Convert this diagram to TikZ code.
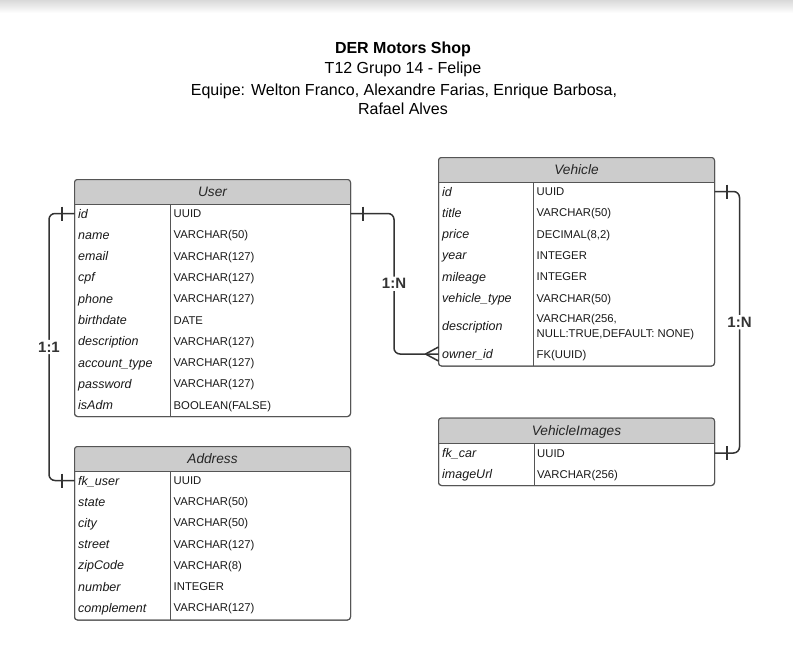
\documentclass[tikz,border=0pt]{standalone}
\usepackage{fontspec}
\setmainfont{Liberation Sans}
\usetikzlibrary{calc}
\definecolor{headgray}{HTML}{CCCCCC}
\definecolor{lncol}{HTML}{333333}
\definecolor{frcol}{HTML}{555555}
\tikzset{
 tframe/.style={draw=frcol, line width=1pt, fill=white, rounded corners=3pt, inner sep=0pt, outer sep=0pt},
 tline/.style={draw=frcol, line width=1pt},
 headtext/.style={font=\fontsize{13.7}{16}\selectfont\itshape, text=black!85, inner sep=0pt, anchor=base},
 fieldtext/.style={font=\fontsize{12.5}{14}\selectfont\itshape, text=black!90, inner sep=0pt, anchor=base west},
 typetext/.style={font=\fontsize{11.3}{14.5}\selectfont, text=black!90, inner sep=0pt, anchor=base west, align=left},
 conn/.style={draw=lncol, line width=1.5pt},
 rel/.style={font=\fontsize{15}{18}\selectfont\bfseries, text=lncol, fill=white, inner sep=2pt},
 ttl/.style={font=\fontsize{16}{19}\selectfont, inner sep=0pt, anchor=base}
}
% #1 name, #2 x1, #3 y1, #4 x2, #5 y2, #6 header bottom, #7 divider x, #8 title
\newcommand\ertable[8]{%
  \node[tframe, minimum width={#4-#2}, minimum height={#5-#3}, anchor=north west] (#1) at (#2,#3) {};
  \begin{scope}
    \clip[rounded corners=3pt] (#2,#3) rectangle (#4,#5);
    \fill[headgray] (#2,#3) rectangle (#4,#6);
  \end{scope}
  \draw[tline] (#2,#6) -- (#4,#6);
  \draw[tline] (#7,#6) -- (#7,#5);
  \draw[tline, rounded corners=3pt] (#1.north west) rectangle (#1.south east);
  \node[headtext] (#1-title) at ({(#2+#4)/2},{(#3+#6)/2+5}) {#8};
}
% #1 name, #2 x1, #3 divider x, #4 y, #5 field, #6 type
\newcommand\erow[6]{%
  \coordinate (#1-r) at (#2,#4);
  \node[fieldtext] (#1) at (#2+3.5,#4+4.5) {#5};
  \node[typetext] (#1-t) at (#3+3,#4+4) {#6};
}
\begin{document}
\begin{tikzpicture}[x=1pt,y=-1pt]
\useasboundingbox (0,0) rectangle (793,659);
\shade[top color=black!15, bottom color=white] (0,0) rectangle (793,13);

% title
\node[ttl] (t1) at (403,53) {\bfseries DER Motors Shop};
\node[ttl] (t2) at (403,73.5) {T12 Grupo 14 - Felipe};
\node[ttl] (t3) at (404,95) {Equipe: Welton Franco, Alexandre Farias, Enrique Barbosa,};
\node[ttl] (t4) at (403,114.5) {Rafael Alves};

% User
\ertable{user}{74.5}{179.5}{350.5}{416.5}{204}{170.5}{User}
\erow{u-id}{74.5}{170.5}{213.5}{id}{UUID}
\erow{u-name}{74.5}{170.5}{234.8}{name}{VARCHAR(50)}
\erow{u-email}{74.5}{170.5}{256.1}{email}{VARCHAR(127)}
\erow{u-cpf}{74.5}{170.5}{277.4}{cpf}{VARCHAR(127)}
\erow{u-phone}{74.5}{170.5}{298.7}{phone}{VARCHAR(127)}
\erow{u-birth}{74.5}{170.5}{320}{birthdate}{DATE}
\erow{u-desc}{74.5}{170.5}{341.3}{description}{VARCHAR(127)}
\erow{u-acct}{74.5}{170.5}{362.6}{account\_type}{VARCHAR(127)}
\erow{u-pass}{74.5}{170.5}{383.9}{password}{VARCHAR(127)}
\erow{u-adm}{74.5}{170.5}{405.2}{isAdm}{BOOLEAN(FALSE)}

% Address
\ertable{addr}{74.5}{446.5}{350.5}{620}{471}{170.5}{Address}
\erow{a-fk}{74.5}{170.5}{480.5}{fk\_user}{UUID}
\erow{a-state}{74.5}{170.5}{501.7}{state}{VARCHAR(50)}
\erow{a-city}{74.5}{170.5}{522.9}{city}{VARCHAR(50)}
\erow{a-street}{74.5}{170.5}{544.1}{street}{VARCHAR(127)}
\erow{a-zip}{74.5}{170.5}{565.3}{zipCode}{VARCHAR(8)}
\erow{a-num}{74.5}{170.5}{586.5}{number}{INTEGER}
\erow{a-comp}{74.5}{170.5}{607.7}{complement}{VARCHAR(127)}

% Vehicle
\ertable{veh}{438.5}{157.5}{714.5}{366}{182}{533.5}{Vehicle}
\erow{v-id}{438.5}{533.5}{191.5}{id}{UUID}
\erow{v-title}{438.5}{533.5}{212.8}{title}{VARCHAR(50)}
\erow{v-price}{438.5}{533.5}{234.1}{price}{DECIMAL(8,2)}
\erow{v-year}{438.5}{533.5}{255.4}{year}{INTEGER}
\erow{v-mil}{438.5}{533.5}{276.7}{mileage}{INTEGER}
\erow{v-type}{438.5}{533.5}{298}{vehicle\_type}{VARCHAR(50)}
\node[fieldtext] (v-desc) at (438.5+3.5,326+4.5) {description};
\node[typetext] (v-desc-t) at (533.5+3,318.5+4) {VARCHAR(256,};
\node[typetext] (v-desc-t2) at (533.5+3,333.5+4) {NULL:TRUE,DEFAULT: NONE)};
\erow{v-owner}{438.5}{533.5}{354}{owner\_id}{FK(UUID)}

% VehicleImages
\ertable{vimg}{438.5}{418}{714.5}{485.5}{443}{534}{VehicleImages}
\erow{vi-fk}{438.5}{534}{453}{fk\_car}{UUID}
\erow{vi-url}{438.5}{534}{474}{imageUrl}{VARCHAR(256)}

% connectors
\draw[conn, rounded corners=6pt] (user.west |- u-id-r) -- ++(-25.5,0) |- node[rel, pos=0.25] (r1) {1:1} (addr.west |- a-fk-r);
\draw[conn] ($(user.west |- u-id-r)+(-12.5,-7)$) -- ++(0,14);
\draw[conn] ($(addr.west |- a-fk-r)+(-12.5,-7)$) -- ++(0,14);

\draw[conn, rounded corners=6pt] (user.east |- u-id-r) -- ++(43.5,0) |- node[rel, pos=0.25] (r2) {1:N} (veh.west |- v-owner-r);
\draw[conn] ($(user.east |- u-id-r)+(12.5,-7)$) -- ++(0,14);
\draw[conn] ($(veh.west |- v-owner-r)+(-13,0)$) -- ($(veh.west |- v-owner-r)+(0,-7)$);
\draw[conn] ($(veh.west |- v-owner-r)+(-13,0)$) -- ($(veh.west |- v-owner-r)+(0,7)$);

\draw[conn, rounded corners=6pt] (veh.east |- v-id-r) -- ++(25,0) |- node[rel, pos=0.25] (r3) {1:N} (vimg.east |- vi-fk-r);
\draw[conn] ($(veh.east |- v-id-r)+(12.5,-7)$) -- ++(0,14);
\draw[conn] ($(vimg.east |- vi-fk-r)+(12.5,-7)$) -- ++(0,14);
\end{tikzpicture}
\end{document}
